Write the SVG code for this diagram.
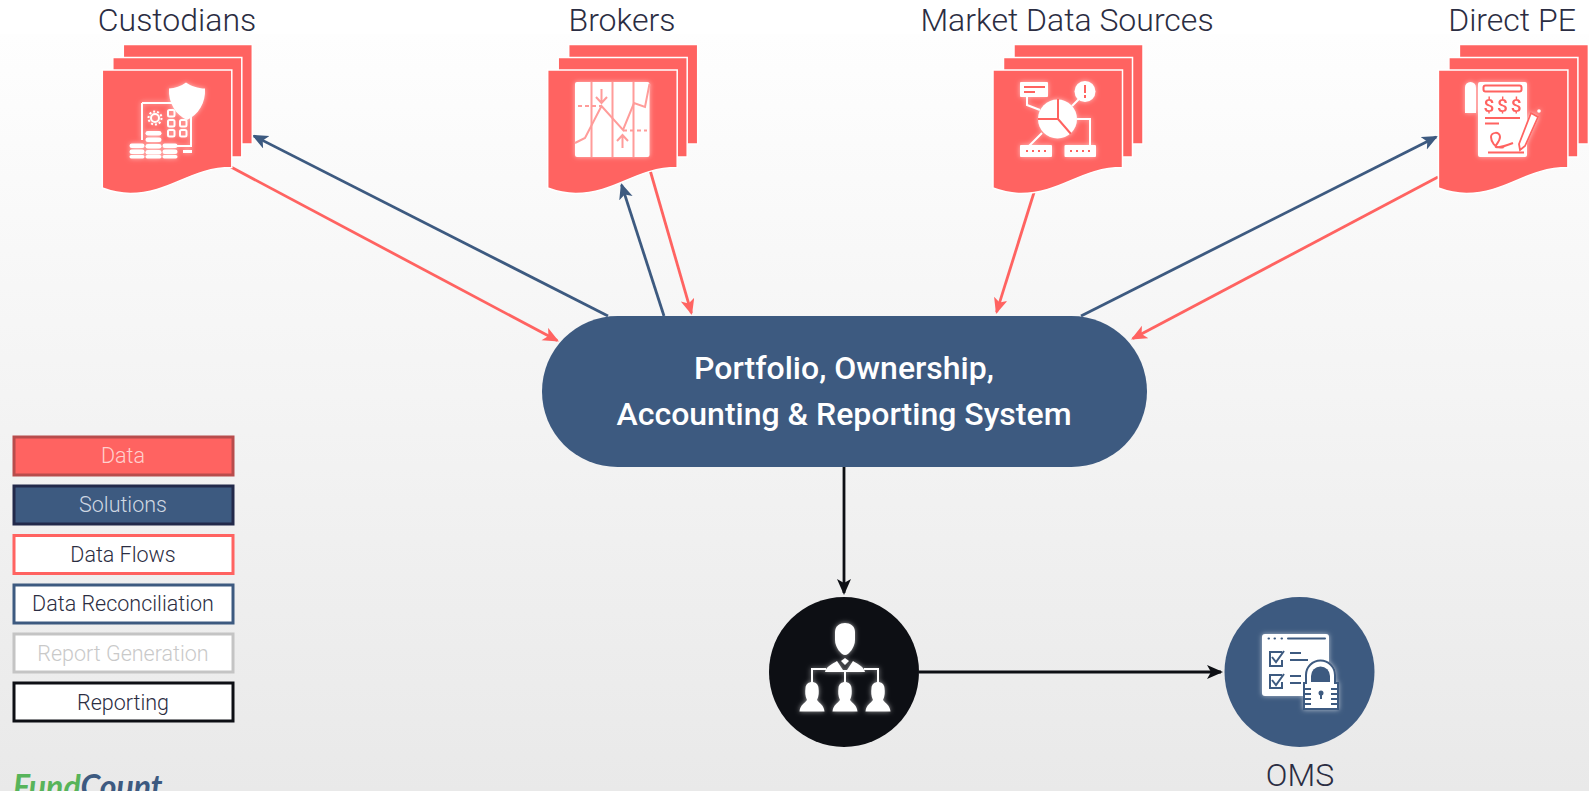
<svg xmlns="http://www.w3.org/2000/svg" xmlns:xlink="http://www.w3.org/1999/xlink" width="1589" height="791" viewBox="0 0 1589 791">
<style>
text{font-family:Roboto,"Liberation Sans",sans-serif}
.title{font-size:32px;font-weight:300;fill:#2b2d42;text-anchor:middle}
.leg{font-size:21.500px;font-weight:300;fill:#2b2d42;text-anchor:middle}
.lr{stroke-width:3}
.page{fill:#ff6361;stroke:#fff;stroke-width:1.5}
.conn{fill:none;stroke-width:2.8}
.red{stroke:#ff6361;marker-end:url(#ar)}
.blue{stroke:#3d5a80;marker-end:url(#ab)}
.black{stroke:#0d0f14;marker-end:url(#ak)}
.w{fill:#fff}
.so{fill:none;stroke:#fff;stroke-width:2}
.sr{fill:none;stroke:#ff6361;stroke-width:2}
.sp{fill:none;stroke:#ff9c9a;stroke-width:2}
.sb{fill:none;stroke:#3d5a80;stroke-width:2}
</style>
<defs>
<linearGradient id="bg" x1="0" y1="0" x2="0" y2="1"><stop offset="0" stop-color="#fefefe"/><stop offset="1" stop-color="#e9e9e9"/></linearGradient>
<filter id="glow" x="-30%" y="-30%" width="160%" height="160%"><feGaussianBlur in="SourceAlpha" stdDeviation="2.500" result="b"/><feFlood flood-color="#fff" flood-opacity="0.6"/><feComposite in2="b" operator="in" result="g"/><feMerge><feMergeNode in="g"/><feMergeNode in="SourceGraphic"/></feMerge></filter>
<marker id="ar" markerUnits="userSpaceOnUse" markerWidth="18" markerHeight="16" refX="14" refY="7" orient="auto"><path d="M0 0L16 7L0 14L4 7Z" fill="#ff6361"/></marker>
<marker id="ab" markerUnits="userSpaceOnUse" markerWidth="18" markerHeight="16" refX="14" refY="7" orient="auto"><path d="M0 0L16 7L0 14L4 7Z" fill="#3d5a80"/></marker>
<marker id="ak" markerUnits="userSpaceOnUse" markerWidth="18" markerHeight="16" refX="14" refY="7" orient="auto"><path d="M0 0L16 7L0 14L4 7Z" fill="#0d0f14"/></marker>
<g id="stack">
<path class="page" d="M21 44.5H150V144H21Z"/>
<path class="page" d="M10.5 57.5H139.5V157H10.5Z"/>
<path class="page" d="M0 70H129.500V167.500C88 167.500 68 193.500 28 193.500C16 193.500 8 191 0 188Z"/>
</g>
</defs>
<rect width="1589" height="791" fill="#fff"/>
<rect y="34" width="1589" height="757" fill="url(#bg)"/>

<g id="connectors">
<path class="conn blue" d="M608 316L253.800 135.900"/>
<path class="conn red" d="M231 167L557.200 340.600"/>
<path class="conn blue" d="M664 316L621.600 184.900"/>
<path class="conn red" d="M650 170L691.400 313.100"/>
<path class="conn red" d="M1034 192.500L996.600 312.100"/>
<path class="conn blue" d="M1081 316L1436.200 136.900"/>
<path class="conn red" d="M1438 177L1132.800 338.600"/>
<path class="conn black" d="M844 467V593"/>
<path class="conn black" d="M919 672H1221"/>
</g>

<g id="custodians">
<text class="title" x="177" y="31">Custodians</text>
<use xlink:href="#stack" href="#stack" x="102.300"/>
<g filter="url(#glow)">
<path class="so" d="M142 103H191V146H176M142 103V140"/>
<circle cx="155" cy="118" r="4" class="so"/>
<circle cx="155" cy="118" r="6.500" fill="none" stroke="#fff" stroke-width="2" stroke-dasharray="2 2"/>
<g class="so"><rect x="168" y="110" width="6.500" height="6.500" rx="1.500"/><rect x="168" y="120" width="6.500" height="6.500" rx="1.500"/><rect x="180" y="120" width="6.500" height="6.500" rx="1.500"/><rect x="168" y="130" width="6.500" height="6.500" rx="1.500"/><rect x="180" y="130" width="6.500" height="6.500" rx="1.500"/></g>
<path class="w" d="M186 82.500C191 86 198 88.500 205 88.500C206 103 198 115 187 120C176 115 168 103 169 88.500C175 88.500 181 86 186 82.500Z"/>
<path class="w" d="M183 150H192V153H183Z"/>
<g class="w">
<rect x="145.500" y="131" width="16" height="4.500" rx="2.200"/><rect x="145.500" y="137.500" width="16" height="4.500" rx="2.200"/><rect x="145.500" y="144" width="16" height="4.500" rx="2.200"/><rect x="145.500" y="150" width="16" height="4.500" rx="2.200"/>
<rect x="129.500" y="143.500" width="15" height="4.500" rx="2.200"/><rect x="129.500" y="149.500" width="15" height="4.500" rx="2.200"/>
<rect x="162.500" y="143.500" width="15" height="4.500" rx="2.200"/><rect x="162.500" y="149.500" width="15" height="4.500" rx="2.200"/>
<rect x="129.500" y="155" width="15" height="3.500" rx="1.700"/><rect x="145.500" y="155" width="16" height="3.500" rx="1.700"/><rect x="162.500" y="155" width="15" height="3.500" rx="1.700"/>
</g>
</g>
</g>

<g id="brokers">
<text class="title" x="622" y="31">Brokers</text>
<use xlink:href="#stack" href="#stack" x="547.700"/>
<g filter="url(#glow)">
<rect class="w" x="575" y="82" width="74.500" height="75" rx="2"/>
<path class="sp" d="M591.500 82V157M612.500 82V157M633.500 82V157"/>
<path class="sp" d="M575 143L585 138L601.500 106L623 130L634 103L645 107L649.500 84"/>
<path class="sp" d="M578 106H601M623 130.500H647" stroke-dasharray="4 3"/>
<path class="sp" d="M601.500 89V102M596 97L601.500 103L607 97M622.500 148V136M617 141L622.500 135L628 141"/>
</g>
</g>

<g id="market-data">
<text class="title" x="1067" y="31">Market Data Sources</text>
<use xlink:href="#stack" href="#stack" x="993"/>
<g filter="url(#glow)">
<rect class="w" x="1020" y="82" width="28" height="15" rx="1"/>
<path class="sr" stroke-width="1.500" d="M1024 87H1045M1024 92H1035"/>
<path class="so" d="M1027 97V105L1040 110M1072 106L1079 99M1077 119H1090V146M1042 133L1029 146"/>
<circle class="w" cx="1057.500" cy="119" r="19.500"/>
<path class="sr" d="M1058 99V119H1038M1058 119L1071 134"/>
<circle class="w" cx="1085" cy="91.500" r="10.500"/>
<path class="sr" stroke-width="2.500" d="M1085 85V93M1085 95V98"/>
<rect class="w" x="1020" y="145" width="32" height="12" rx="1"/>
<rect class="w" x="1064.500" y="145" width="31.500" height="12" rx="1"/>
<path class="sr" stroke-dasharray="2 4" d="M1026 151H1048M1070 151H1092"/>
</g>
</g>

<g id="direct-pe">
<text class="title" x="1512" y="31">Direct PE</text>
<use xlink:href="#stack" href="#stack" x="1438.400"/>
<g filter="url(#glow)">
<path class="w" d="M1465 113V87.500A5.500 5.500 0 0 1 1476 87.500V113Z"/>
<rect class="w" x="1478" y="82" width="49" height="75" rx="2"/>
<rect class="sr" x="1483.500" y="85.500" width="38" height="6" rx="2"/>
<text x="1483.500" y="112" font-size="19" font-weight="500" fill="#ff6361" textLength="38">$$$</text>
<path class="sr" d="M1485 118H1520M1485 123.500H1499M1488 152.500H1524"/>
<path class="sr" d="M1504 147C1494 150 1491 140 1491 137C1491 132 1500 131 1500 137C1500 142 1494 146 1496 147C1500 148 1508 145 1513 143"/>
<path class="w" stroke="#ff6361" stroke-width="1.800" d="M1531 113L1538 117L1525 146L1520 150L1519 144Z"/>
<circle class="w" cx="1539" cy="111" r="1.800"/>
</g>
</g>

<g id="system">
<rect x="542" y="316" width="605" height="151" rx="75.500" fill="#3d5a80"/>
<text x="844" y="379" font-size="32" font-weight="500" fill="#fff" text-anchor="middle">Portfolio, Ownership,</text>
<text x="844" y="425" font-size="32" font-weight="500" fill="#fff" text-anchor="middle">Accounting &amp; Reporting System</text>
</g>

<g id="reporting">
<circle cx="844" cy="672" r="75" fill="#0d0f14"/>
<g filter="url(#glow)">
<path class="w" d="M835 632C835 626 840 623 845 623C850 623 855 626 855 632V640C855 647 849 655 845 655C841 655 835 647 835 640Z"/>
<path class="w" d="M825 672C826 667 832 664 837 661L843 670H847L853 661C858 664 864 667 865 672Z"/>
<path class="w" d="M841 661L845 658L849 661L845 665Z"/>
<path class="so" stroke-width="1.800" d="M812 683V669H826M864 669H878V683M845 672V682"/>
<g class="w">
<path d="M799.500 711.500C800 705 805 703 807 700C805 696 805 692 805.500 688C806 680 818 680 818.500 688C819 692 819 696 817 700C819 703 824 705 824.500 711.500Z"/>
<path d="M832.500 711.500C833 705 838 703 840 700C838 696 838 692 838.500 688C839 680 851 680 851.500 688C852 692 852 696 850 700C852 703 857 705 857.500 711.500Z"/>
<path d="M865.500 711.500C866 705 871 703 873 700C871 696 871 692 871.500 688C872 680 884 680 884.500 688C885 692 885 696 883 700C885 703 890 705 890.500 711.500Z"/>
</g>
</g>
</g>

<g id="oms">
<circle cx="1299.500" cy="672" r="75" fill="#3d5a80"/>
<text class="title" x="1300" y="786" font-size="30">OMS</text>
<g filter="url(#glow)">
<rect class="w" x="1262" y="634" width="67" height="62" rx="3"/>
<path class="sb" stroke-width="1.800" stroke-linecap="round" d="M1268.500 638.500H1269M1274.500 638.500H1275M1281.500 638.500H1282M1288 638.500H1325"/>
<path class="sb" d="M1282 652H1270V666H1282V660M1272 657L1276 662L1284 651M1282 675H1270V688H1282V682M1272 680L1276 685L1284 674"/>
<path class="sb" d="M1290 653H1301M1290 660H1308M1290 676H1301M1290 683H1301"/>
<path class="w" stroke="#3d5a80" stroke-width="2" d="M1306 683V675A14.500 14.500 0 0 1 1335 675V683H1338V709H1304V683Z"/>
<path fill="#3d5a80" d="M1311 682V676A9.500 9.500 0 0 1 1330 676V682Z"/>
<path class="sb" stroke-width="1.500" d="M1305 689H1311M1305 694H1311M1305 699H1311M1305 704H1311M1331 689H1337M1331 694H1337M1331 699H1337M1331 704H1337"/>
<circle fill="#3d5a80" cx="1321" cy="693" r="2.500"/><path class="sb" stroke-width="1.500" d="M1321 694V699"/>
</g>
</g>

<g id="legend">
<g id="leg-data"><rect class="lr" x="14" y="437" width="219" height="38" fill="#ff6361" stroke="#b84c4c"/><text class="leg" x="123" y="463" style="fill:#ffd0ce">Data</text></g>
<g id="leg-solutions"><rect class="lr" x="14" y="486" width="219" height="38" fill="#3d5a80" stroke="#22294a"/><text class="leg" x="123" y="512" style="fill:#cfd7e2">Solutions</text></g>
<g id="leg-flows"><rect class="lr" x="14" y="535.500" width="219" height="38" fill="#fff" stroke="#ff6361"/><text class="leg" x="123" y="562">Data Flows</text></g>
<g id="leg-recon"><rect class="lr" x="14" y="585" width="219" height="38" fill="#fff" stroke="#3d5a80"/><text class="leg" x="123" y="611">Data Reconciliation</text></g>
<g id="leg-report"><rect class="lr" x="14" y="634" width="219" height="38" fill="#fff" stroke="#c4c4c4"/><text class="leg" x="123" y="661" style="fill:#c9c9c9">Report Generation</text></g>
<g id="leg-reporting"><rect class="lr" x="14" y="683" width="219" height="38" fill="#fff" stroke="#0d0f14"/><text class="leg" x="123" y="710">Reporting</text></g>
</g>

<g id="logo">
<text x="13" y="798" font-size="32" font-style="italic" font-weight="700" style="font-family:Lato,sans-serif"><tspan fill="#57b45a">Fund</tspan><tspan fill="#3d5a80">Count</tspan></text>
</g>
</svg>
